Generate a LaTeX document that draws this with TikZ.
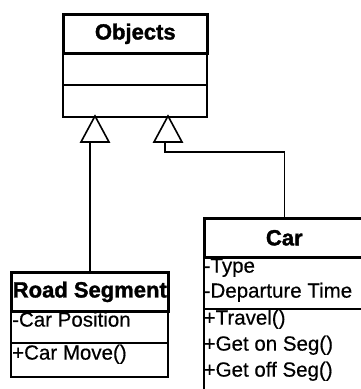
\documentclass[tikz,border=0pt]{standalone}
\usepackage{fontspec}
\setmainfont{Liberation Sans}
\newfontfamily\heavyfont[FakeBold=1.5]{Liberation Sans Bold}
\newfontfamily\plainfont[FakeBold=0.4]{Liberation Sans}
\begin{document}
\begin{tikzpicture}[x=1pt,y=-1pt,
  box/.style={draw=black, line width=1.6pt, rectangle, inner sep=0pt, anchor=north west},
  titlebox/.style={box, line width=2.6pt, font=\heavyfont\fontsize{22}{26}\selectfont},
  txt/.style={anchor=west, inner sep=0pt, font=\plainfont\fontsize{20.5}{24}\selectfont, text height=0.72em, text depth=0.2em},
  conn/.style={line width=1.6pt},
  gen/.style={line width=1.6pt, fill=white, line join=miter}]
\useasboundingbox (0,0) rectangle (361,389);
\clip (0,0) rectangle (361,389);
\fill[white] (0,0) rectangle (361,389);

% Objects
\node[box, minimum width=144pt, minimum height=32pt] (obja) at (62,52) {};
\node[box, minimum width=144pt, minimum height=32pt] (objo) at (62,84) {};
\node[titlebox, minimum width=144pt, minimum height=39pt] (objt) at (62,13) {Objects};

% Road Segment
\node[box, minimum width=157pt, minimum height=32pt] (rsa) at (10,310) {};
\node[box, minimum width=157pt, minimum height=34pt] (rso) at (10,342) {};
\node[titlebox, minimum width=157pt, minimum height=39pt] (rst) at (10,271) {Road Segment};
\node[txt] (rs1) at (12,324) {-Car Position};
\node[txt] (rs2) at (12,357) {+Car Move()};

% Car
\node[box, minimum width=160pt, minimum height=52pt] (cara) at (203,256) {};
\node[box, minimum width=160pt, minimum height=95pt] (caro) at (203,308) {};
\node[titlebox, minimum width=160pt, minimum height=39pt] (cart) at (203,217) {Car};
\node[txt] (c1) at (203.5,270) {-Type};
\node[txt] (c2) at (203.5,295) {-Departure Time};
\node[txt] (c3) at (203.5,322) {+Travel()};
\node[txt] (c4) at (203.5,348) {+Get on Seg()};
\node[txt] (c5) at (203.5,374) {+Get off Seg()};

% generalization triangles
\coordinate (lapex) at (95,116);
\coordinate (lb1) at (81,142);
\coordinate (lb2) at (109,142);
\coordinate (lbase) at (88,142);
\coordinate (rapex) at (168,116);
\coordinate (rb1) at (154,142);
\coordinate (rb2) at (182,142);
\coordinate (rbase) at (165,142);
\coordinate (rbend) at (165,152);

\draw[conn] (rst.north) -- (rst.north |- lbase);
\draw[conn] (cart.north) |- (rbend) -- (rbase);
\draw[gen] (lapex) -- (lb1) -- (lb2) -- cycle;
\draw[gen] (rapex) -- (rb1) -- (rb2) -- cycle;
\end{tikzpicture}
\end{document}
